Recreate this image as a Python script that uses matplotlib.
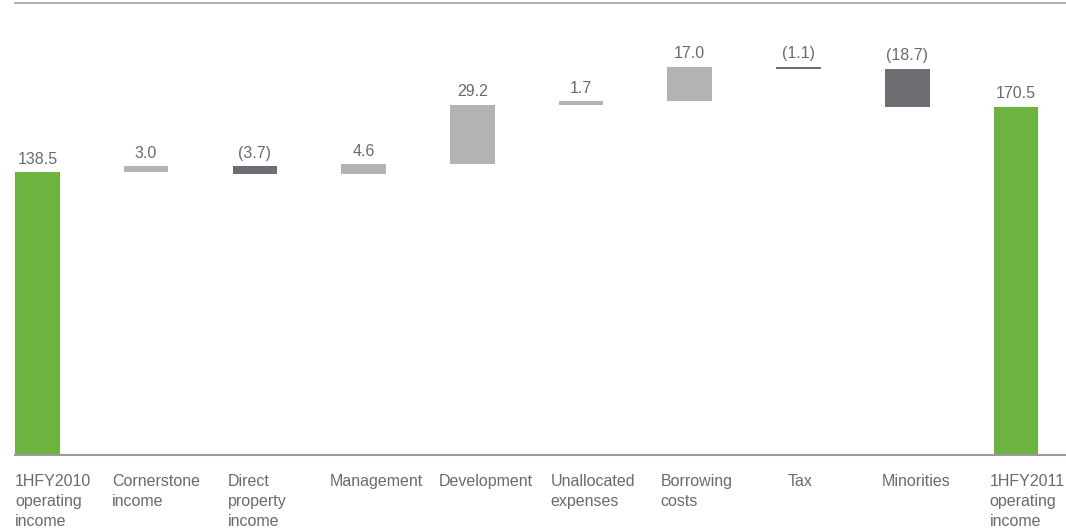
import matplotlib.pyplot as plt
import numpy as np

plt.rcParams['font.family'] = ['Liberation Sans', 'DejaVu Sans']

## Data
categories = ['1HFY2010\noperating\nincome', 'Cornerstone\nincome', 'Direct\nproperty\nincome',
              'Management', 'Development', 'Unallocated\nexpenses', 'Borrowing\ncosts',
              'Tax', 'Minorities', '1HFY2011\noperating\nincome']
changes = [138.5, 3.0, -3.7, 4.6, 29.2, 1.7, 17.0, -1.1, -18.7, 170.5]
value_labels = ['138.5', '3.0', '(3.7)', '4.6', '29.2', '1.7', '17.0', '(1.1)', '(18.7)', '170.5']
is_total = [True, False, False, False, False, False, False, False, False, True]

# horizontal nudge (pixels) of each category label from its bar's left edge
label_dx = [0, -12, -5, -11, -11, -8, -7, 11, -3, -4]

GREEN = '#6db33f'
LIGHT = '#b2b3b5'
DARK = '#6d6e71'
TEXT = '#6a6a6a'

# work out bottoms/heights for the waterfall
bottoms = []
heights = []
colors = []
running = 0.0
for val, tot in zip(changes, is_total):
    if tot:
        bottoms.append(0)
        heights.append(val)
        colors.append(GREEN)
        running = val
    elif val >= 0:
        bottoms.append(running)
        heights.append(val)
        colors.append(LIGHT)
        running += val
    else:
        bottoms.append(running + val)
        heights.append(-val)
        colors.append(DARK)
        running += val

x = np.arange(len(categories))
w = 0.41

fig = plt.figure(figsize=(10.66, 5.30), dpi=100)
ax = fig.add_axes([0.0141, 0.1415, 0.9859, 0.853])
ax.bar(x, heights, bottom=bottoms, width=w, color=colors, linewidth=0)

for i in range(len(x)):
    top = bottoms[i] + heights[i]
    ax.annotate(value_labels[i], xy=(x[i], top), xytext=(0, 4), textcoords='offset points',
                ha='center', va='bottom', fontsize=11.5, color=TEXT)
    ax.annotate(categories[i], xy=(x[i] - w / 2, 0), xytext=(label_dx[i] * 0.72, -14),
                textcoords='offset points', ha='left', va='top', fontsize=11.5,
                color=TEXT, linespacing=1.38, annotation_clip=False)

ax.set_xlim(-w / 2, 9.46)
ax.set_ylim(0, 221.5)
for side in ['left', 'right']:
    ax.spines[side].set_visible(False)
ax.spines['bottom'].set_color('#9a9a9a')
ax.spines['bottom'].set_linewidth(1.5)
ax.spines['top'].set_color('#a0a0a0')
ax.spines['top'].set_linewidth(1.2)
ax.set_xticks([])
ax.set_yticks([])

plt.savefig('out.png', dpi=100)
plt.close()
